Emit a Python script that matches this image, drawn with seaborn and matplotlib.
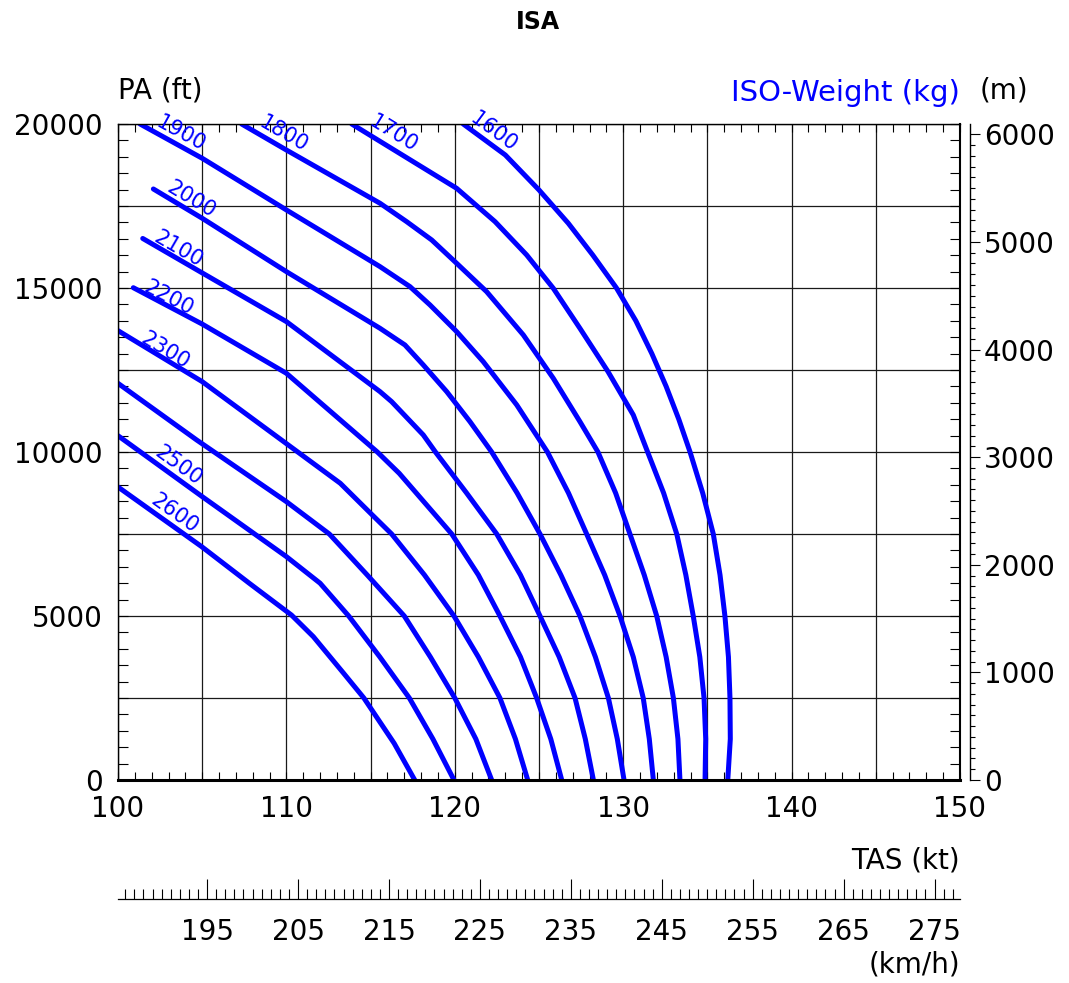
import numpy as np
import pandas as pd
import matplotlib
matplotlib.use("Agg")
import matplotlib.pyplot as plt
import matplotlib.ticker as mticker
import seaborn as sns

# ISO-weight lines (kg): pressure altitude (ft) against true airspeed (kt), top to bottom
weights = [1600, 1700, 1800, 1900, 2000, 2100, 2200, 2300, 2400, 2500, 2600]

pa_1600 = [20000, 19055, 17989, 16973, 16000, 15000, 14000, 13000, 12000, 11000, 10000,
           8750, 7500, 6250, 5000, 3750, 2500, 1250, 0]
tas_1600 = [120.5, 123.0, 125.0, 126.74, 128.2, 129.6, 130.75, 131.7, 132.55, 133.3, 133.97,
            134.72, 135.35, 135.75, 136.04, 136.25, 136.34, 136.36, 136.21]

pa_1700 = [20000, 18039, 17023, 16006, 14990, 13771, 12449, 11129, 10000,
           8750, 7500, 6250, 5000, 3750, 2500, 1250, 0]
tas_1700 = [113.88, 120.11, 122.39, 124.27, 125.85, 127.43, 129.1, 130.6, 131.45,
            132.4, 133.18, 133.72, 134.16, 134.55, 134.8, 134.9, 134.86]

pa_1800 = [20000, 19207, 17583, 17023, 16464, 15753, 14888, 13568, 12246, 10926, 10000,
           8750, 7500, 6250, 5000, 3750, 2500, 1250, 0]
tas_1800 = [107.34, 110.0, 115.56, 117.14, 118.63, 120.11, 121.89, 124.07, 125.85, 127.43, 128.5,
            129.55, 130.4, 131.25, 131.99, 132.55, 132.98, 133.25, 133.37]

pa_1900 = [20000, 18955, 17380, 15651, 15041, 14482, 13670, 12754, 11434, 10000,
           8750, 7500, 6250, 5000, 3750, 2500, 1250, 0]
tas_1900 = [101.31, 105.0, 110.0, 115.56, 117.34, 118.53, 120.11, 121.69, 123.68, 125.5,
            126.75, 127.83, 128.9, 129.81, 130.6, 131.19, 131.55, 131.79]

pa_2000 = [18019, 17126, 15499, 13771, 13263, 12653, 11840, 10926, 10000,
           8750, 7500, 6250, 5000, 3750, 2500, 1250, 0]
tas_2000 = [102.1, 105.0, 110.0, 115.56, 117.04, 118.13, 119.52, 120.9, 122.19,
            123.7, 125.06, 126.3, 127.43, 128.35, 129.12, 129.65, 130.05]

pa_2100 = [16510, 15460, 13975, 11840, 11535, 10519, 10000,
           8750, 7500, 6250, 5000, 3750, 2500, 1250, 0]
tas_2100 = [101.47, 105.0, 110.0, 115.56, 116.25, 118.13, 118.85,
            120.7, 122.49, 123.9, 125.06, 126.2, 127.14, 127.75, 128.23]

pa_2200 = [15009, 13900, 12400, 10000, 9350, 7500, 6250, 5000, 3750, 2500, 1250, 0]
tas_2200 = [100.91, 105.0, 110.0, 115.4, 116.7, 119.82, 121.4, 122.68, 123.9, 124.86, 125.7, 126.35]

pa_2300 = [13700, 12145, 9046, 8131, 7500, 6250, 5000, 3750, 2500, 1250, 0]
tas_2300 = [100.0, 105.0, 113.2, 115.0, 116.25, 118.2, 119.95, 121.4, 122.68, 123.6, 124.33]

pa_2400 = [12094, 10367, 8486, 7500, 6250, 5000, 3750, 2500, 1250, 0]
tas_2400 = [100.0, 104.67, 110.0, 112.55, 114.8, 117.0, 118.55, 120.0, 121.25, 122.19]

pa_2500 = [10497, 8640, 6810, 6000, 5000, 3750, 2500, 1250, 0]
tas_2500 = [100.0, 105.0, 110.0, 112.0, 113.7, 115.55, 117.3, 118.7, 119.95]

pa_2600 = [8934, 7114, 5997, 5030, 4370, 3253, 2500, 1118, 0]
tas_2600 = [100.0, 104.97, 107.8, 110.3, 111.6, 113.4, 114.6, 116.4, 117.62]

# Axis tick labels
kt_ticks = [100, 110, 120, 130, 140, 150]
ft_ticks = [0, 5000, 10000, 15000, 20000]
m_ticks = [0, 1000, 2000, 3000, 4000, 5000, 6000]
kmh_ticks = [195, 205, 215, 225, 235, 245, 255, 265, 275]

curves = {
    1600: (pa_1600, tas_1600), 1700: (pa_1700, tas_1700), 1800: (pa_1800, tas_1800),
    1900: (pa_1900, tas_1900), 2000: (pa_2000, tas_2000), 2100: (pa_2100, tas_2100),
    2200: (pa_2200, tas_2200), 2300: (pa_2300, tas_2300), 2400: (pa_2400, tas_2400),
    2500: (pa_2500, tas_2500), 2600: (pa_2600, tas_2600),
}

df = pd.concat(
    [pd.DataFrame({"weight": str(w), "pa": curves[w][0], "tas": curves[w][1]}) for w in weights],
    ignore_index=True,
)

# label placement relative to each line's first point (pixels right, pixels down)
label_offsets = {1600: (30, 8), 1700: (42, 10), 1800: (42, 10), 1900: (41, 10),
                 2000: (38, 11), 2100: (36, 11), 2200: (35, 10), 2300: (47, 20),
                 2500: (60, 30), 2600: (57, 27)}

BLUE = "#0000ff"
W, H = 1069, 983
FS = 20

sns.set_style("white")
plt.rcParams["font.family"] = ["DejaVu Sans"]
plt.rcParams["text.color"] = "black"
plt.rcParams["xtick.color"] = "black"
plt.rcParams["ytick.color"] = "black"
plt.rcParams["axes.edgecolor"] = "black"

fig = plt.figure(figsize=(W / 100, H / 100), dpi=100)
ax = fig.add_axes([118 / W, 1 - 780 / H, (960 - 118) / W, (780 - 124) / H])

sns.lineplot(data=df, x="tas", y="pa", hue="weight", estimator=None, sort=False,
             palette={str(w): BLUE for w in weights}, legend=False,
             linewidth=3.6, ax=ax)

ax.set_xlim(100, 150)
ax.set_ylim(0, 20000)
ax.set_xlabel("")
ax.set_ylabel("")

ax.xaxis.set_major_locator(mticker.MultipleLocator(5))
ax.xaxis.set_minor_locator(mticker.MultipleLocator(1))
ax.xaxis.set_major_formatter(mticker.FuncFormatter(
    lambda v, p: f"{v:.0f}" if int(round(v)) in kt_ticks else ""))
ax.yaxis.set_major_locator(mticker.MultipleLocator(2500))
ax.yaxis.set_minor_locator(mticker.MultipleLocator(500))
ax.yaxis.set_major_formatter(mticker.FuncFormatter(
    lambda v, p: f"{v:.0f}" if int(round(v)) in ft_ticks else ""))

ax.grid(True, which="major", color="#1a1a1a", linewidth=0.9)

for side, lw in (("bottom", 2.2), ("right", 1.5), ("left", 1.0), ("top", 1.0)):
    ax.spines[side].set_linewidth(lw)
    ax.spines[side].set_color("black")

# metre scale on the right
ax_m = ax.twinx()
ax_m.set_ylim(0, 20000 * 0.3048)
for side in ("left", "top", "bottom"):
    ax_m.spines[side].set_visible(False)
ax_m.spines["right"].set_position(("outward", 7.2))
ax_m.spines["right"].set_linewidth(1.0)
ax_m.yaxis.set_major_locator(mticker.FixedLocator(m_ticks))
ax_m.yaxis.set_minor_locator(mticker.MultipleLocator(100))
ax_m.tick_params(axis="y", which="major", direction="out", right=True, length=7,
                 width=0.8, labelsize=FS, pad=3)
ax_m.tick_params(axis="y", which="minor", direction="out", right=True, length=3.6, width=0.8)
ax_m.grid(False)

# inward ticks on all four sides of the main frame
ax.tick_params(axis="x", which="both", direction="in", top=True, bottom=True,
               length=5.8, width=0.8, labelsize=FS, pad=11)
ax.tick_params(axis="y", which="both", direction="in", left=True, right=True,
               labelleft=True, labelright=False, length=7, width=0.8, labelsize=FS, pad=11)

# km/h scale below the knot axis
sec = ax.secondary_xaxis(-(899 - 780) / (780 - 124),
                         functions=(lambda k: k * 1.852, lambda h: h / 1.852))
sec.xaxis.set_major_locator(mticker.FixedLocator(kmh_ticks))
sec.xaxis.set_minor_locator(mticker.MultipleLocator(1))
sec.tick_params(axis="x", which="major", direction="in", bottom=True, length=14.4,
                width=0.8, labelsize=FS, pad=14)
sec.tick_params(axis="x", which="minor", direction="in", bottom=True, length=7.2, width=0.8)
sec.spines["bottom"].set_linewidth(0.9)

# weight labels along the start of each line
for w, (dx, dy) in label_offsets.items():
    pa, tas = curves[w]
    p0 = ax.transData.transform((tas[0], pa[0]))
    p1 = ax.transData.transform((tas[1], pa[1]))
    angle = np.degrees(np.arctan2(p1[1] - p0[1], p1[0] - p0[0]))
    ax.annotate(str(w), xy=(tas[0], pa[0]), xytext=(dx, -dy), textcoords="offset pixels",
                rotation=angle, rotation_mode="anchor", ha="center", va="center",
                color=BLUE, fontsize=15)

fig.text(538 / W, 1 - 22 / H, "ISA", ha="center", va="center", fontsize=17, fontweight="bold")
fig.text(118 / W, 1 - 90 / H, "PA (ft)", ha="left", va="center", fontsize=FS)
fig.text(960 / W, 1 - 93 / H, "ISO-Weight (kg)", ha="right", va="center", fontsize=FS + 1, color=BLUE)
fig.text(980 / W, 1 - 90 / H, "(m)", ha="left", va="center", fontsize=FS)
fig.text(960 / W, 1 - 860 / H, "TAS (kt)", ha="right", va="center", fontsize=FS)
fig.text(960 / W, 1 - 965 / H, "(km/h)", ha="right", va="center", fontsize=FS)

fig.savefig("out.png", dpi=100)
